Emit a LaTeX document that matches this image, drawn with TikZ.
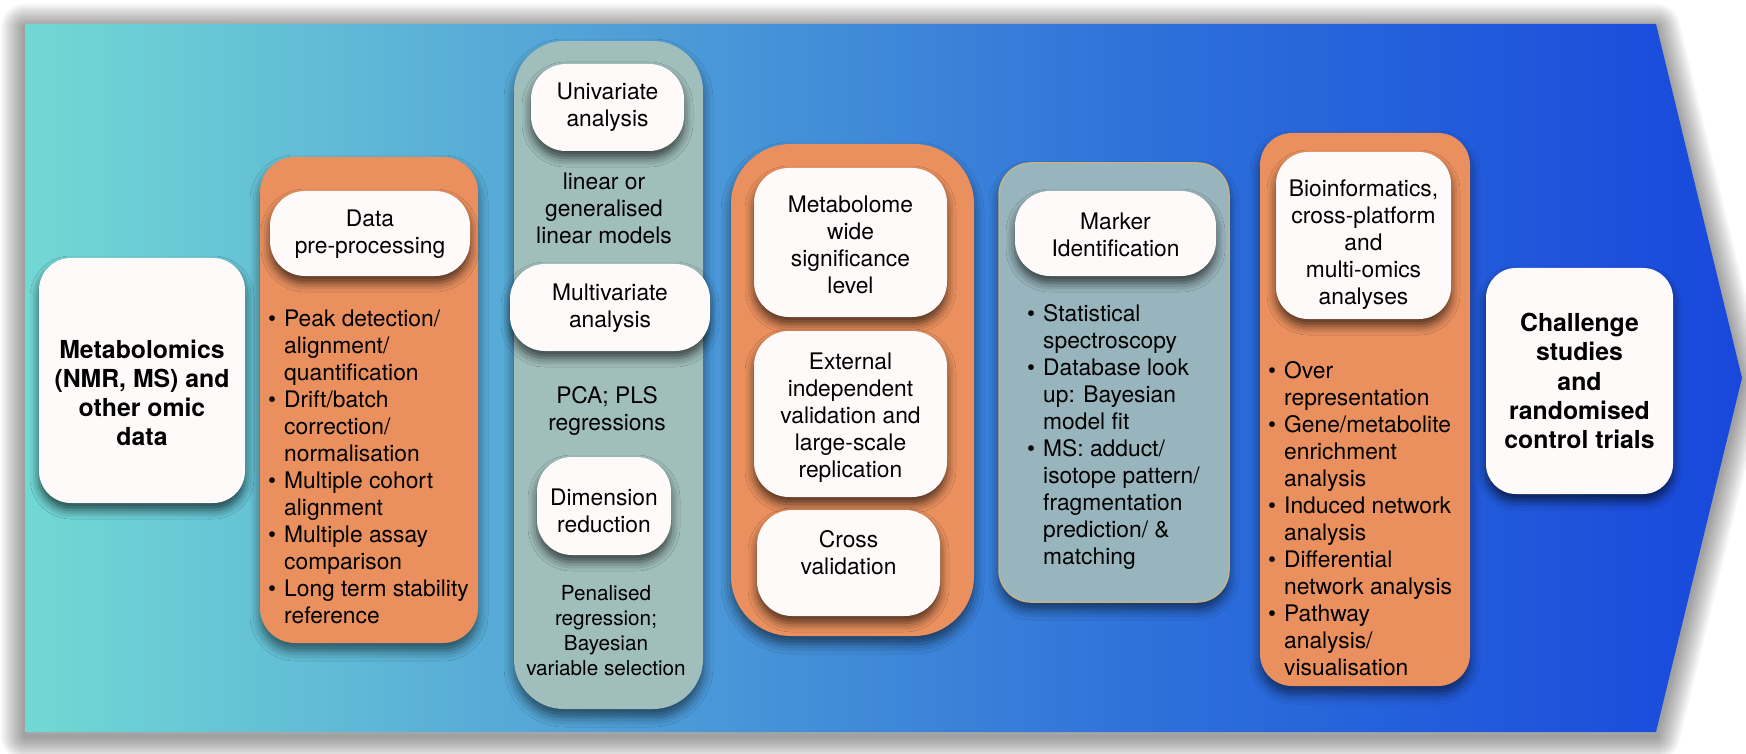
\documentclass[tikz,border=0pt]{standalone}
\usepackage{fontspec}
\setmainfont{TeX Gyre Heros}
\usetikzlibrary{shadows.blur}

\definecolor{bandL}{RGB}{114,216,212}
\definecolor{bandM}{RGB}{80,160,215}
\definecolor{bandN}{RGB}{45,112,218}
\definecolor{bandR}{RGB}{24,72,220}
\definecolor{orangebox}{RGB}{234,144,94}
\definecolor{greyA}{RGB}{160,190,188}
\definecolor{greyB}{RGB}{152,181,189}
\definecolor{rimB}{RGB}{196,178,140}
\definecolor{paper}{RGB}{253,250,249}

\pgfdeclarehorizontalshading{band}{100bp}{color(0bp)=(bandL); color(25bp)=(bandL); color(42bp)=(bandM); color(58bp)=(bandN); color(75bp)=(bandR); color(100bp)=(bandR)}

\newcommand\bl{\makebox[16pt][l]{\textbullet}}
\newcommand\ind{\hspace*{16pt}}
\newcommand\bandpath{(25,24) -- (1656,24) -- (1742,378) -- (1656,732) -- (25,732) -- cycle}

\tikzset{
  column/.style={rectangle, inner sep=0pt, rounded corners=#1,
    blur shadow={shadow xshift=0pt, shadow yshift=-8pt, shadow blur radius=10pt, shadow opacity=55}},
  card/.style={rectangle, inner sep=0pt, rounded corners=#1, fill=paper,
    blur shadow={shadow xshift=0pt, shadow yshift=-7pt, shadow blur radius=9pt, shadow opacity=65}},
  txt/.style={inner sep=0pt, align=center, font=\fontsize{22.8}{27}\selectfont},
  smalltxt/.style={inner sep=0pt, align=center, font=\fontsize{20.7}{25}\selectfont},
  boldtxt/.style={inner sep=0pt, align=center, font=\fontsize{24.8}{29.2}\selectfont\bfseries},
  bullets/.style={inner sep=0pt, align=left, anchor=west, font=\fontsize{22.8}{27}\selectfont},
  halo/.style={draw=black, opacity=0.035, line join=round, line width=#1},
}

\begin{document}
\begin{tikzpicture}[x=1pt,y=-1pt]
\useasboundingbox (0,0) rectangle (1746,754);
\fill[white] (0,0) rectangle (1746,754);

% soft halo round the banner, built from stacked translucent strokes
\begin{scope}[yshift=-4pt]
  \foreach \w in {48,44,...,4} { \path[halo=\w pt] \bandpath; }
\end{scope}

% pipeline banner
\path[shading=band] \bandpath;

% input data
\node[card=32pt, minimum width=206pt, minimum height=245pt] (src) at (142,380.5) {};
\node[boldtxt] (srctxt) at (142,393) {Metabolomics\\(NMR, MS) and\\other omic\\data};

% pre-processing column
\node[column=35pt, fill=orangebox, minimum width=218pt, minimum height=486pt] (colA) at (369,400) {};
\node[card=35pt, minimum width=200pt, minimum height=85pt] (cardA) at (370,233.5) {};
\node[txt] (cardAtxt) at (370,234) {Data\\pre-processing};
\node[bullets] (listA) at (268,466.5) {\bl Peak detection/\\\ind alignment/\\\ind quantification\\\bl Drift/batch\\\ind correction/\\\ind normalisation\\\bl Multiple cohort\\\ind alignment\\\bl Multiple assay\\\ind comparison\\\bl Long term stability\\\ind reference};

% statistical analysis column
\node[column=50pt, fill=greyA, minimum width=189pt, minimum height=668pt] (colB) at (608.5,375) {};
\node[card=35pt, minimum width=153pt, minimum height=87pt] (cardB1) at (607.5,107.5) {};
\node[txt] (cardB1txt) at (607.5,107.5) {Univariate\\analysis};
\node[txt] (noteB1) at (604,208) {linear or\\generalised\\linear models};
\node[card=35pt, minimum width=200pt, minimum height=87pt] (cardB2) at (610,307.5) {};
\node[txt] (cardB2txt) at (610,308) {Multivariate\\analysis};
\node[txt] (noteB2) at (607,411) {PCA; PLS\\regressions};
\node[card=35pt, minimum width=134pt, minimum height=98pt] (cardB3) at (604,506) {};
\node[txt] (cardB3txt) at (604,511) {Dimension\\reduction};
\node[smalltxt] (noteB3) at (606,630.5) {Penalised\\regression;\\Bayesian\\variable selection};

% validation column
\node[column=60pt, fill=orangebox, minimum width=243pt, minimum height=492pt] (colC) at (852.5,390) {};
\node[card=35pt, minimum width=193pt, minimum height=149pt] (cardC1) at (850.5,242.5) {};
\node[txt] (cardC1txt) at (850.5,244.5) {Metabolome\\wide\\significance\\level};
\node[card=35pt, minimum width=193pt, minimum height=166pt] (cardC2) at (850.5,414) {};
\node[txt] (cardC2txt) at (850.5,418) {External\\independent\\validation and\\large-scale\\replication};
\node[card=35pt, minimum width=183pt, minimum height=106pt] (cardC3) at (848.5,563) {};
\node[txt] (cardC3txt) at (848.5,552.5) {Cross\\validation};

% marker identification column
\node[column=32pt, fill=greyB, draw=rimB, line width=1.5pt, minimum width=230pt, minimum height=439pt] (colD) at (1114,382.5) {};
\node[card=35pt, minimum width=201pt, minimum height=85pt] (cardD) at (1115.5,233.5) {};
\node[txt] (cardDtxt) at (1115.5,235) {Marker\\Identification};
\node[bullets] (listD) at (1027,437) {\bl Statistical\\\ind spectroscopy\\\bl Database look\\\ind up: Bayesian\\\ind model fit\\\bl MS: adduct/\\\ind isotope pattern/\\\ind fragmentation\\\ind prediction/ \&\\\ind matching};

% interpretation column
\node[column=32pt, fill=orangebox, minimum width=210pt, minimum height=553pt] (colE) at (1365,409.5) {};
\node[card=32pt, minimum width=175pt, minimum height=167pt] (cardE) at (1363.5,235.5) {};
\node[txt] (cardEtxt) at (1363.5,245) {Bioinformatics,\\cross-platform\\and\\multi-omics\\analyses};
\node[bullets] (listE) at (1268,519) {\bl Over\\\ind representation\\\bl Gene/metabolite\\\ind enrichment\\\ind analysis\\\bl Induced network\\\ind analysis\\\bl Differential\\\ind network analysis\\\bl Pathway\\\ind analysis/\\\ind visualisation};

% outcome
\node[card=30pt, minimum width=187pt, minimum height=226pt] (goal) at (1579.5,381) {};
\node[boldtxt] (goaltxt) at (1579.5,381) {Challenge\\studies\\and\\randomised\\control trials};
\end{tikzpicture}
\end{document}
